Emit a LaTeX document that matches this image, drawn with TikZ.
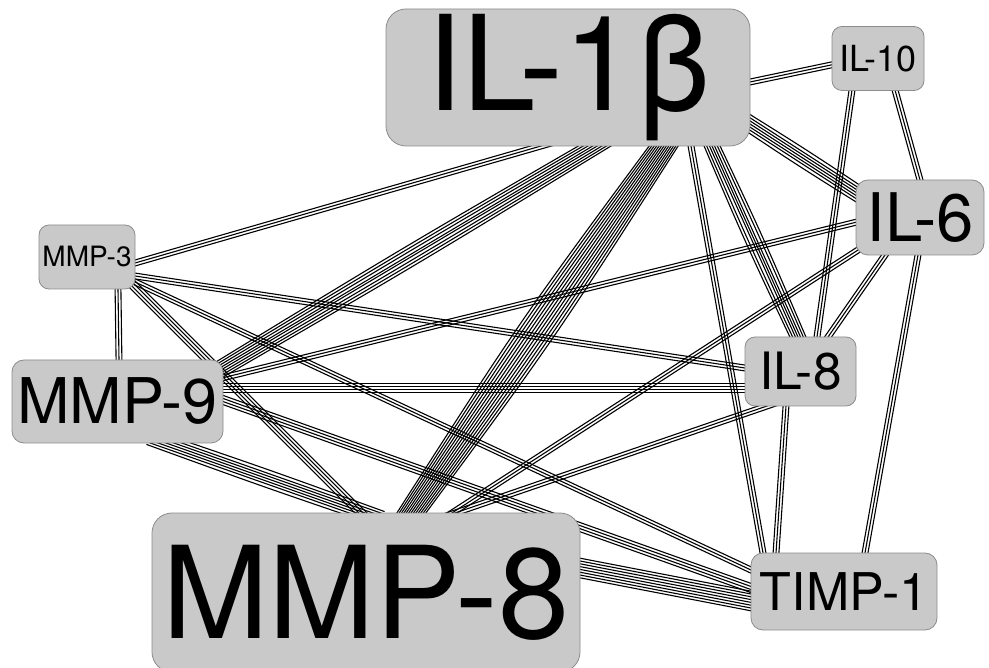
\documentclass[tikz,border=0pt]{standalone}
\usepackage{fontspec}
\setmainfont{TeX Gyre Heros}
\usetikzlibrary{calc}
\definecolor{nodefill}{RGB}{201,201,201}
\definecolor{nodeline}{RGB}{140,140,140}
\pgfdeclarelayer{bg}
\pgfdeclarelayer{edges}
\pgfsetlayers{bg,edges,main}
\newcommand\bsp{2.9}
% #1 strands, #2 node A, #3 offset in A, #4 node B, #5 offset in B, #6 end/middle spread ratio
\newcommand\bundle[6]{%
  \coordinate (ba) at ($(#2)+#3$);
  \coordinate (bb) at ($(#4)+#5$);
  \coordinate (pa) at ($(ba)!-18pt!(bb)$);
  \coordinate (pb) at ($(bb)!-18pt!(ba)$);
  \coordinate (bm) at ($(pa)!0.5!(pb)$);
  \foreach \k in {1,...,#1}{%
    \pgfmathsetmacro\bso{(\k-(#1+1)/2)*\bsp}%
    \pgfmathsetmacro\bsa{#6*\bso}%
    \pgfmathsetmacro\bsc{(4-#6)/3*\bso}%
    \draw[strand] ($(pa)!\bsa pt!90:(pb)$) .. controls ($(bm)!\bsc pt!90:(pb)$) .. ($(pb)!\bsa pt!-90:(pa)$);
  }}
\tikzset{
  box/.style={draw=nodeline, fill=nodefill, line width=0.8pt, inner sep=0pt},
  strand/.style={draw=black, line width=1.1pt}
}
\begin{document}
\begin{tikzpicture}[x=1pt,y=-1pt]
\useasboundingbox (0,0) rectangle (989,668);
\begin{pgfonlayer}{bg}
\fill[white] (0,0) rectangle (989,668);
\end{pgfonlayer}
% nodes
\node[box, minimum width=364pt, minimum height=137pt, rounded corners=20pt, font=\fontsize{132}{132}\selectfont] (il1b) at (568,77.5) {IL-1β};
\node[box, minimum width=92pt, minimum height=64pt, rounded corners=10pt, font=\fontsize{36}{36}\selectfont] (il10) at (878,58.5) {IL-10};
\node[box, minimum width=128pt, minimum height=75pt, rounded corners=12pt, font=\fontsize{67}{67}\selectfont] (il6) at (920,217.5) {IL-6};
\node[box, minimum width=96pt, minimum height=64pt, rounded corners=10pt, font=\fontsize{28}{28}\selectfont] (mmp3) at (87,257) {MMP-3};
\node[box, minimum width=211pt, minimum height=83pt, rounded corners=12pt, font=\fontsize{63}{63}\selectfont] (mmp9) at (117.5,401.5) {MMP-9};
\node[box, minimum width=111pt, minimum height=69pt, rounded corners=10pt, font=\fontsize{51.5}{51.5}\selectfont] (il8) at (800.5,371.5) {IL-8};
\node[box, minimum width=428pt, minimum height=159pt, rounded corners=20pt, font=\fontsize{128}{128}\selectfont] (mmp8) at (366,592.5) {MMP-8};
\node[box, minimum width=186pt, minimum height=77pt, rounded corners=12pt, font=\fontsize{52}{52}\selectfont] (timp) at (844,591.5) {TIMP-1};
% connectors
\begin{pgfonlayer}{edges}
\bundle{3}{il1b}{(182,4.5)}{il10}{(-47,6.5)}{1}
\bundle{7}{il1b}{(182,46.5)}{il6}{(-63,-24.5)}{0.9}
\bundle{3}{il1b}{(-27,68.5)}{mmp3}{(48,6)}{1}
\bundle{8}{il1b}{(27,68.5)}{mmp9}{(104.5,-33.5)}{0.8}
\bundle{13}{il1b}{(96,68.5)}{mmp8}{(45,-79.5)}{0.65}
\bundle{7}{il1b}{(144,68.5)}{il8}{(-2.5,-34.5)}{0.8}
\bundle{3}{il1b}{(123,68.5)}{timp}{(-81,-38.5)}{1}
\bundle{3}{il10}{(17,31.5)}{il6}{(0,-37.5)}{1}
\bundle{3}{il10}{(-26,31.5)}{il8}{(16.5,-34.5)}{1}
\bundle{3}{il6}{(-63,4.5)}{mmp9}{(104.5,-23.5)}{1}
\bundle{3}{il6}{(-35,37.5)}{il8}{(27.5,-34.5)}{1}
\bundle{3}{il6}{(-62,32.5)}{mmp8}{(86,-79.5)}{1}
\bundle{3}{il6}{(-2,37.5)}{timp}{(21,-38.5)}{1}
\bundle{3}{mmp3}{(31,32)}{mmp9}{(1.5,-41.5)}{1}
\bundle{3}{mmp3}{(48,19)}{il8}{(-55.5,-3.5)}{1}
\bundle{4}{mmp3}{(46,28)}{mmp8}{(-5,-79.5)}{1}
\bundle{3}{mmp3}{(48,25)}{timp}{(-93,-21.5)}{1}
\bundle{4}{mmp9}{(105.5,-13.5)}{il8}{(-55.5,16.5)}{1}
\bundle{7}{mmp9}{(48.5,41.5)}{mmp8}{(-1,-79.5)}{0.9}
\bundle{4}{mmp9}{(105.5,-1.5)}{timp}{(-93,-3.5)}{1}
\bundle{3}{mmp8}{(89,-79.5)}{il8}{(-33.5,34.5)}{1}
\bundle{8}{mmp8}{(214,-24.5)}{timp}{(-93,9.5)}{0.95}
\bundle{3}{il8}{(-14.5,34.5)}{timp}{(-68,-38.5)}{1}
\end{pgfonlayer}
\end{tikzpicture}
\end{document}
